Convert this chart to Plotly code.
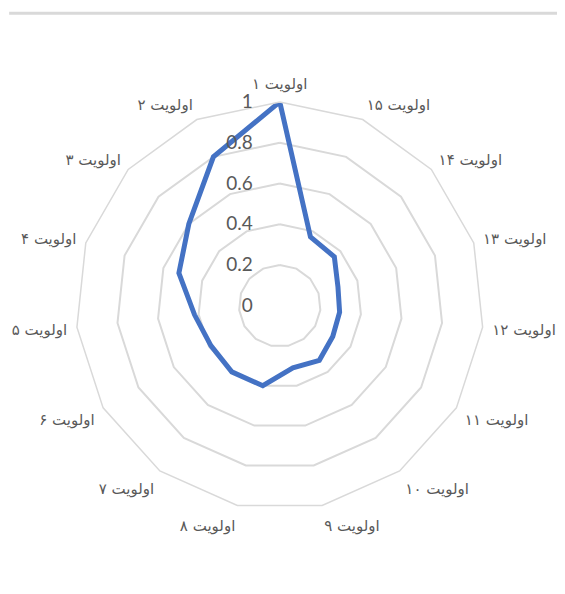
import plotly.graph_objects as go

# اولویت ها به ترتیب (پادساعتگرد از بالا)
priorities = ["اولویت ۱", "اولویت ۲", "اولویت ۳", "اولویت ۴", "اولویت ۵",
              "اولویت ۶", "اولویت ۷", "اولویت ۸", "اولویت ۹", "اولویت ۱۰",
              "اولویت ۱۱", "اولویت ۱۲", "اولویت ۱۳", "اولویت ۱۴", "اولویت ۱۵"]
scores = [1.0, 0.80, 0.60, 0.52, 0.42, 0.39, 0.40, 0.40, 0.31, 0.33,
          0.30, 0.295, 0.30, 0.36, 0.37]
radial_ticks = [0, 0.2, 0.4, 0.6, 0.8, 1]
radial_labels = ["0", "0.2", "0.4", "0.6", "0.8", "1"]

grid_gray = "#d9d9d9"
text_gray = "#595959"

# فاصله خالی برای بردن برچسب ها به سمت چپ محور
pad = "\u2003\u2002"

fig = go.Figure()

fig.add_trace(go.Scatterpolar(
    r=scores + scores[:1],
    theta=priorities + priorities[:1],
    mode="lines",
    line=dict(color="#4472C4", width=5),
    hoverinfo="r+theta",
    showlegend=False,
))

fig.update_layout(
    width=565,
    height=594,
    margin=dict(l=0, r=0, t=0, b=0),
    paper_bgcolor="white",
    plot_bgcolor="white",
    polar=dict(
        domain=dict(x=[0.120, 0.842], y=[0.155, 0.842]),
        gridshape="linear",
        bgcolor="white",
        radialaxis=dict(
            range=[0, 1],
            angle=90,
            side="counterclockwise",
            tickangle=90,
            tickvals=radial_ticks,
            ticktext=[t + pad for t in radial_labels],
            showline=False,
            ticks="",
            gridcolor=grid_gray,
            gridwidth=1.5,
            tickfont=dict(family="Lato", size=19, color=text_gray),
        ),
        angularaxis=dict(
            direction="counterclockwise",
            rotation=90,
            showgrid=False,
            showline=True,
            linecolor=grid_gray,
            linewidth=1.5,
            ticks="outside",
            ticklen=6,
            tickcolor="rgba(0,0,0,0)",
            tickfont=dict(family="DejaVu Sans", size=15, color=text_gray),
        ),
    ),
    shapes=[dict(type="line", xref="paper", yref="paper",
                 x0=0.002, x1=0.985, y0=0.991, y1=0.991,
                 line=dict(color=grid_gray, width=3))],
)

fig.write_html("out.html")
